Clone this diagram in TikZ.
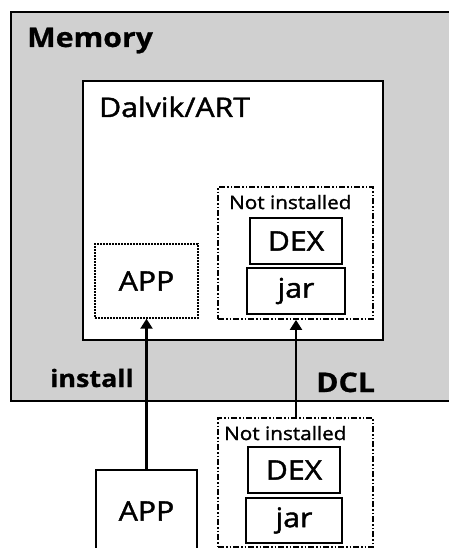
\documentclass[tikz,border=0pt]{standalone}
\usepackage{fontspec}
\setmainfont{Open Sans}[FakeStretch=1.12, FakeBold=1.5, BoldFeatures={FakeBold=0.8}]
\usetikzlibrary{arrows.meta}
\definecolor{memgray}{RGB}{208,208,208}
\tikzset{
  box/.style={draw=black, line width=1.8pt, rectangle, inner sep=0pt},
  notinst/.style={box, dash pattern=on 6pt off 2pt on 1.5pt off 2pt on 1.5pt off 2pt},
  finedash/.style={box, line width=1.4pt, dash pattern=on 2pt off 1pt},
  flow/.style={line width=2.2pt, -{Triangle[length=10pt,width=12pt]}},
  lbl/.style={inner sep=0pt, anchor=base west},
}
\begin{document}
\begin{tikzpicture}[x=1pt, y=-1pt]
  \useasboundingbox (0,0) rectangle (449,548);
  \clip (0,0) rectangle (449,548);

  % memory region and runtime
  \node[box, fill=memgray, minimum width=459pt, minimum height=389pt] (mem) at (240.5,206.5) {};
  \node[lbl, font=\bfseries\fontsize{27}{30}\selectfont] (memlbl) at (27,47) {Memory};
  \node[box, fill=white, minimum width=300pt, minimum height=259pt] (rt) at (233,210.5) {};
  \node[lbl, font=\fontsize{27}{30}\selectfont] (rtlbl) at (99,117) {Dalvik/ART};

  % loaded components
  \node[finedash, fill=white, minimum width=103pt, minimum height=74pt,
        font=\fontsize{27}{30}\selectfont] (appin) at (146.5,281) {APP};
  \node[notinst, minimum width=155pt, minimum height=132pt] (niin) at (295.5,253) {};
  \node[lbl, font=\fontsize{18.5}{22}\selectfont] (niinlbl) at (229,209) {Not installed};
  \node[box, minimum width=92pt, minimum height=46pt,
        font=\fontsize{27}{30}\selectfont] (dexin) at (296,241) {DEX};
  \node[box, minimum width=98pt, minimum height=46pt,
        font=\fontsize{27}{30}\selectfont] (jarin) at (296,291) {jar};

  % sources on storage
  \node[box, fill=white, minimum width=101pt, minimum height=100pt] (appout) at (146.5,520) {};
  \node[font=\fontsize{27}{30}\selectfont, inner sep=0pt] (appoutlbl) at (146.5,511) {APP};
  \node[notinst, minimum width=155pt, minimum height=129pt] (niout) at (295.5,482.5) {};
  \node[lbl, font=\fontsize{18.5}{22}\selectfont] (nioutlbl) at (224,440) {Not installed};
  \node[box, minimum width=92pt, minimum height=46pt,
        font=\fontsize{27}{30}\selectfont] (dexout) at (294,470) {DEX};
  \node[box, minimum width=96pt, minimum height=45pt,
        font=\fontsize{27}{30}\selectfont] (jarout) at (294,520.5) {jar};

  % loading paths
  \draw[flow] (appout.north) -- (appin.south);
  \draw[flow] (niout.north -| jarin.south) -- (niin.south -| jarin.south);
  \node[lbl, font=\bfseries\fontsize{24}{28}\selectfont] (instlbl) at (50,387) {install};
  \node[lbl, font=\bfseries\fontsize{27}{30}\selectfont] (dcllbl) at (316,392) {DCL};
\end{tikzpicture}
\end{document}
